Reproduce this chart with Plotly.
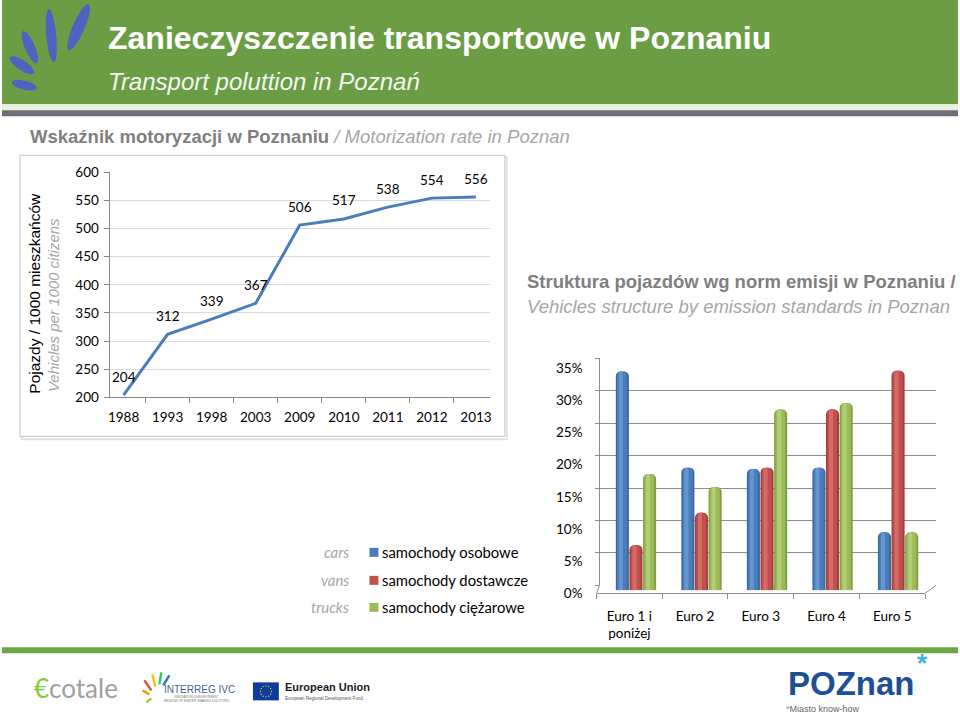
import numpy as np
import plotly.graph_objects as go

W = 960
FH = 736          # figure height in px
SHIFT = 7.8       # vertical placement correction measured on the photographed page
SCALE = 0.978


def px(x):
    return x / W


def py(y):
    return 1 - ((y - SHIFT) / SCALE) / FH


# ---------------- data ----------------
years = ["1988", "1993", "1998", "2003", "2009", "2010", "2011", "2012", "2013"]
rate = [204, 312, 339, 367, 506, 517, 538, 554, 556]
rate_ticks = [200, 250, 300, 350, 400, 450, 500, 550, 600]

euro = ["Euro 1 i<br>poniżej", "Euro 2", "Euro 3", "Euro 4", "Euro 5"]
cars = [33.9, 19.0, 18.8, 19.0, 9.0]
vans = [7.0, 12.0, 19.0, 28.0, 34.0]
trucks = [18.0, 16.0, 28.0, 29.0, 9.0]
pct_ticks = [0, 5, 10, 15, 20, 25, 30, 35]
pct_labels = [f"{v}%" for v in pct_ticks]
series_pl = ["samochody osobowe", "samochody dostawcze", "samochody ciężarowe"]
series_en = ["cars", "vans", "trucks"]

AX = "#868686"
GRAY_B = "#7f7f7f"
GRAY_I = "#a6a6a6"
GREEN = "#6b9e44"
FONT = "Lato"
ARIAL = "Liberation Sans, Arial"

fig = go.Figure()

# ---------------- line chart ----------------
fig.add_trace(go.Scatter(
    x=years, y=rate, mode="lines",
    line=dict(color="#4a7ebb", width=3),
    xaxis="x", yaxis="y", showlegend=False, hoverinfo="skip"))

# empty traces so that the back wall and the front plane subplots are drawn
fig.add_trace(go.Scatter(x=[None], y=[None], xaxis="x2", yaxis="y2",
                         showlegend=False, hoverinfo="skip"))
fig.add_trace(go.Scatter(x=[None], y=[None], xaxis="x3", yaxis="y3",
                         showlegend=False, hoverinfo="skip"))

# ---------------- bar chart (pseudo-3D cylinders) ----------------
palette = [("#3a68a0", "#4a7ebb", "#6e9bd4"),
           ("#a23f3c", "#c0504d", "#d8726f"),
           ("#829f44", "#9bbb59", "#b7d27c")]
bw = 0.208
for i, (vals, (dark, mid, light)) in enumerate(zip([cars, vans, trucks], palette)):
    off = -1.5 * bw + i * bw
    fig.add_trace(go.Bar(x=euro, y=vals, offset=off, width=bw * 0.96,
                         marker=dict(color=dark, cornerradius=5, line_width=0),
                         xaxis="x4", yaxis="y4", showlegend=False, hoverinfo="skip"))
    fig.add_trace(go.Bar(x=euro, y=vals, offset=off + bw * 0.1, width=bw * 0.72,
                         marker=dict(color=mid, cornerradius=4, line_width=0),
                         xaxis="x4", yaxis="y4", showlegend=False, hoverinfo="skip"))
    fig.add_trace(go.Bar(x=euro, y=vals, offset=off + bw * 0.22, width=bw * 0.3,
                         marker=dict(color=light, cornerradius=2, line_width=0, opacity=0.8),
                         xaxis="x4", yaxis="y4", showlegend=False, hoverinfo="skip"))

tickfont = dict(family=FONT, size=13.5, color="#000000")

fig.update_layout(
    width=W, height=FH, margin=dict(l=0, r=0, t=0, b=0),
    paper_bgcolor="white", plot_bgcolor="rgba(0,0,0,0)",
    barmode="overlay", showlegend=False,
    # line chart axes
    xaxis=dict(domain=[px(108), px(490)], anchor="y", type="category",
               tickson="boundaries", ticks="outside", ticklen=5, tickcolor=AX,
               showline=True, linecolor=AX, showgrid=False, tickfont=tickfont,
               tickangle=0, ticklabelstandoff=7, fixedrange=True),
    yaxis=dict(domain=[py(397), py(172)], anchor="x", range=[200, 600],
               tickvals=rate_ticks, showgrid=True, gridcolor="#d9d9d9",
               showline=True, linecolor=AX, ticks="outside", ticklen=5, tickcolor=AX,
               zeroline=False, tickfont=tickfont, ticklabelstandoff=2),
    # back wall of bar chart
    xaxis2=dict(domain=[px(600), px(938)], anchor="y2", range=[0, 1], showgrid=False,
                showline=False, showticklabels=False, ticks="", zeroline=False),
    yaxis2=dict(domain=[py(585), py(358)], anchor="x2", range=[0, 35],
                tickvals=pct_ticks, showgrid=True, gridcolor="#8c8c8c", gridwidth=1,
                showline=True, linecolor="#8c8c8c", ticks="outside", ticklen=4,
                tickcolor="#8c8c8c", showticklabels=False, zeroline=False),
    # front plane of bar chart (labels)
    xaxis3=dict(domain=[px(597), px(927)], anchor="y3", range=[-0.5, 4.5],
                tickvals=list(range(len(euro))), ticktext=euro, ticks="",
                showline=True, linecolor="#8c8c8c", showgrid=False, zeroline=False,
                tickfont=tickfont, tickangle=0, ticklabelstandoff=10,
                minor=dict(tickmode="array", tickvals=[k - 0.5 for k in range(len(euro) + 1)],
                           ticks="outside", ticklen=5, tickcolor="#8c8c8c", showgrid=False)),
    yaxis3=dict(domain=[py(593), py(368)], anchor="x3", range=[0, 35],
                tickvals=pct_ticks, ticktext=pct_labels, showgrid=False, showline=False,
                zeroline=False, ticks="", tickfont=tickfont, ticklabelstandoff=13),
    # bars at mid-depth
    xaxis4=dict(domain=[px(604), px(933)], anchor="y4", range=[-0.5, 4.5],
                visible=False, type="category"),
    yaxis4=dict(domain=[py(590), py(364)], anchor="x4", range=[0, 35], visible=False),
)

shapes = []
annotations = []

# header band
shapes.append(dict(type="rect", xref="paper", yref="paper", x0=0, x1=1, y0=py(104), y1=1.05,
                   fillcolor=GREEN, line_width=0, layer="below"))
shapes.append(dict(type="rect", xref="paper", yref="paper", x0=0, x1=1, y0=py(110), y1=py(104),
                   fillcolor="#e9f1e2", line_width=0, layer="below"))
shapes.append(dict(type="rect", xref="paper", yref="paper", x0=0, x1=1, y0=py(116), y1=py(110),
                   fillcolor="#6e6e76", line_width=0, layer="below"))
# footer band
shapes.append(dict(type="rect", xref="paper", yref="paper", x0=0, x1=1, y0=py(653), y1=py(647),
                   fillcolor="#70a646", line_width=0, layer="below"))

# logo petals
petals = [((87, 4), (67, 50), 12), ((47, 9), (52, 62), 10), ((21, 31), (35, 63), 10),
          ((8, 57), (32, 73), 10), ((10, 82), (35, 88), 9)]
t = np.linspace(0, 2 * np.pi, 40)
for (x1, y1), (x2, y2), wd in petals:
    cx, cy = (x1 + x2) / 2, (y1 + y2) / 2
    L = np.hypot(x2 - x1, y2 - y1) / 2
    ang = np.arctan2(y2 - y1, x2 - x1)
    ex = cx + L * np.cos(t) * np.cos(ang) - wd / 2 * np.sin(t) * np.sin(ang)
    ey = cy + L * np.cos(t) * np.sin(ang) + wd / 2 * np.sin(t) * np.cos(ang)
    path = "M " + " L ".join(f"{px(a):.5f},{py(b):.5f}" for a, b in zip(ex, ey)) + " Z"
    shapes.append(dict(type="path", xref="paper", yref="paper", path=path,
                       fillcolor="#4f62c2", line_width=0))

# line-chart box with soft shadow
shapes.append(dict(type="rect", xref="paper", yref="paper", x0=px(20), x1=px(507),
                   y0=py(439), y1=py(157), line=dict(color="#e3e3e3", width=2), layer="below"))
shapes.append(dict(type="rect", xref="paper", yref="paper", x0=px(18), x1=px(505),
                   y0=py(436), y1=py(155), line=dict(color="#c3c3c3", width=1),
                   fillcolor="white", layer="below"))

# bar-chart floor diagonals
shapes.append(dict(type="line", xref="paper", yref="paper", x0=px(597), y0=py(593),
                   x1=px(600), y1=py(585), line=dict(color="#8c8c8c", width=1)))
shapes.append(dict(type="line", xref="paper", yref="paper", x0=px(927), y0=py(593),
                   x1=px(938), y1=py(585), line=dict(color="#8c8c8c", width=1)))

# titles
annotations.append(dict(xref="paper", yref="paper", x=px(104), y=py(38), xanchor="left",
                        yanchor="middle", showarrow=False,
                        text="<b>Zanieczyszczenie transportowe w Poznaniu</b>",
                        font=dict(family=ARIAL, size=32, color="white")))
annotations.append(dict(xref="paper", yref="paper", x=px(104), y=py(81), xanchor="left",
                        yanchor="middle", showarrow=False,
                        text="<i>Transport poluttion in Poznań</i>",
                        font=dict(family=ARIAL, size=24, color="#f4f4f4")))
annotations.append(dict(xref="paper", yref="paper", x=px(26), y=py(136), xanchor="left",
                        yanchor="middle", showarrow=False,
                        text=f"<b>Wskaźnik motoryzacji w Poznaniu</b>"
                             f"<span style='color:{GRAY_I}'><i> / Motorization rate in Poznan</i></span>",
                        font=dict(family=ARIAL, size=18.5, color=GRAY_B)))
annotations.append(dict(xref="paper", yref="paper", x=px(525), y=py(281), xanchor="left",
                        yanchor="middle", showarrow=False,
                        text="<b>Struktura pojazdów wg norm emisji w Poznaniu /</b>",
                        font=dict(family=ARIAL, size=18.5, color=GRAY_B)))
annotations.append(dict(xref="paper", yref="paper", x=px(525), y=py(306), xanchor="left",
                        yanchor="middle", showarrow=False,
                        text="<i>Vehicles structure by emission standards in Poznan</i>",
                        font=dict(family=ARIAL, size=18.5, color=GRAY_I)))

# line chart axis titles
annotations.append(dict(xref="paper", yref="paper", x=px(33), y=py(395), xanchor="center",
                        yanchor="bottom", textangle=-90, showarrow=False,
                        text="Pojazdy / 1000 mieszkańców",
                        font=dict(family=ARIAL, size=15.5, color="#000000")))
annotations.append(dict(xref="paper", yref="paper", x=px(52), y=py(394), xanchor="center",
                        yanchor="bottom", textangle=-90, showarrow=False,
                        text="<i>Vehicles per 1000 citizens</i>",
                        font=dict(family=ARIAL, size=15, color=GRAY_I)))

# data labels (x given as category index)
for k, v in enumerate(rate):
    annotations.append(dict(xref="x", yref="y", x=k, y=v, yshift=18.5, showarrow=False,
                            text=str(v), font=dict(family=FONT, size=13.5, color="#000000")))

# custom legend
leg_y = [552, 580, 607]
for k, (pl, en) in enumerate(zip(series_pl, series_en)):
    yc = leg_y[k]
    shapes.append(dict(type="rect", xref="paper", yref="paper", x0=px(369), x1=px(378),
                       y0=py(yc + 4.5), y1=py(yc - 4.5), fillcolor=palette[k][1], line_width=0))
    annotations.append(dict(xref="paper", yref="paper", x=px(380), y=py(yc), xanchor="left",
                            yanchor="middle", showarrow=False, text=pl,
                            font=dict(family=FONT, size=14.8, color="#000000")))
    annotations.append(dict(xref="paper", yref="paper", x=px(350), y=py(yc), xanchor="right",
                            yanchor="middle", showarrow=False, text=f"<i>{en}</i>",
                            font=dict(family=FONT, size=14.8, color=GRAY_I)))

# footer logos (text approximations)
annotations.append(dict(xref="paper", yref="paper", x=px(30), y=py(688), xanchor="left",
                        yanchor="middle", showarrow=False,
                        text="<span style='color:#8cc63f'>€</span>cotale",
                        font=dict(family=FONT, size=26, color="#a0a0a0")))
rays = [((150, 690), (143, 680), "#e74c3c"), ((154, 686), (151, 674), "#f1c40f"),
        ((158, 684), (160, 672), "#2ecc71"), ((162, 685), (168, 675), "#3d6fb6"),
        ((148, 694), (141, 690), "#f39c12"), ((150, 698), (145, 702), "#9acd32")]
for (a, b), (c, d), col in rays:
    shapes.append(dict(type="line", xref="paper", yref="paper", x0=px(a), y0=py(b),
                       x1=px(c), y1=py(d), line=dict(color=col, width=2.5)))
annotations.append(dict(xref="paper", yref="paper", x=px(161), y=py(689), xanchor="left",
                        yanchor="middle", showarrow=False, text="INTERREG IVC",
                        font=dict(family=ARIAL, size=10, color="#3f5f93")))
annotations.append(dict(xref="paper", yref="paper", x=px(161), y=py(699), xanchor="left",
                        yanchor="middle", showarrow=False,
                        text="INNOVATION & ENVIRONMENT<br>REGIONS OF EUROPE SHARING SOLUTIONS",
                        font=dict(family=ARIAL, size=3, color="#777777")))
shapes.append(dict(type="rect", xref="paper", yref="paper", x0=px(252), x1=px(278),
                   y0=py(700), y1=py(682), fillcolor="#0d3c9c", line_width=0))
for k in range(12):
    a = 2 * np.pi * k / 12
    sx, sy = 265 + 5.5 * np.cos(a), 691 + 5.5 * np.sin(a)
    shapes.append(dict(type="circle", xref="paper", yref="paper", x0=px(sx - 0.7), x1=px(sx + 0.7),
                       y0=py(sy + 0.7), y1=py(sy - 0.7), fillcolor="#ffdd00", line_width=0))
annotations.append(dict(xref="paper", yref="paper", x=px(282), y=py(687), xanchor="left",
                        yanchor="middle", showarrow=False, text="<b>European Union</b>",
                        font=dict(family=ARIAL, size=11, color="#1b1b2a")))
annotations.append(dict(xref="paper", yref="paper", x=px(282), y=py(698), xanchor="left",
                        yanchor="middle", showarrow=False, text="European Regional Development Fund",
                        font=dict(family=ARIAL, size=4.5, color="#555555")))
annotations.append(dict(xref="paper", yref="paper", x=px(787), y=py(683), xanchor="left",
                        yanchor="middle", showarrow=False,
                        text="<b>POZnan</b>",
                        font=dict(family=ARIAL, size=33, color="#1d4f96")))
annotations.append(dict(xref="paper", yref="paper", x=px(924), y=py(663), xanchor="center",
                        yanchor="middle", showarrow=False, text="<b>*</b>",
                        font=dict(family=ARIAL, size=26, color="#3bb3e4")))
annotations.append(dict(xref="paper", yref="paper", x=px(785), y=py(709), xanchor="left",
                        yanchor="middle", showarrow=False,
                        text="<span style='color:#3bb3e4'>*</span>Miasto know-how",
                        font=dict(family=ARIAL, size=9, color="#666666")))

fig.update_layout(shapes=shapes, annotations=annotations)
fig.write_html(
    "out.html",
    config={"displayModeBar": False},
    post_script="var gd=document.getElementById('{plot_id}');"
                "gd.style.position='fixed';gd.style.left='0px';gd.style.top='0px';"
                "document.body.style.margin='0';"
                "document.documentElement.style.overflow='hidden';"
                "document.body.style.overflow='hidden';")
